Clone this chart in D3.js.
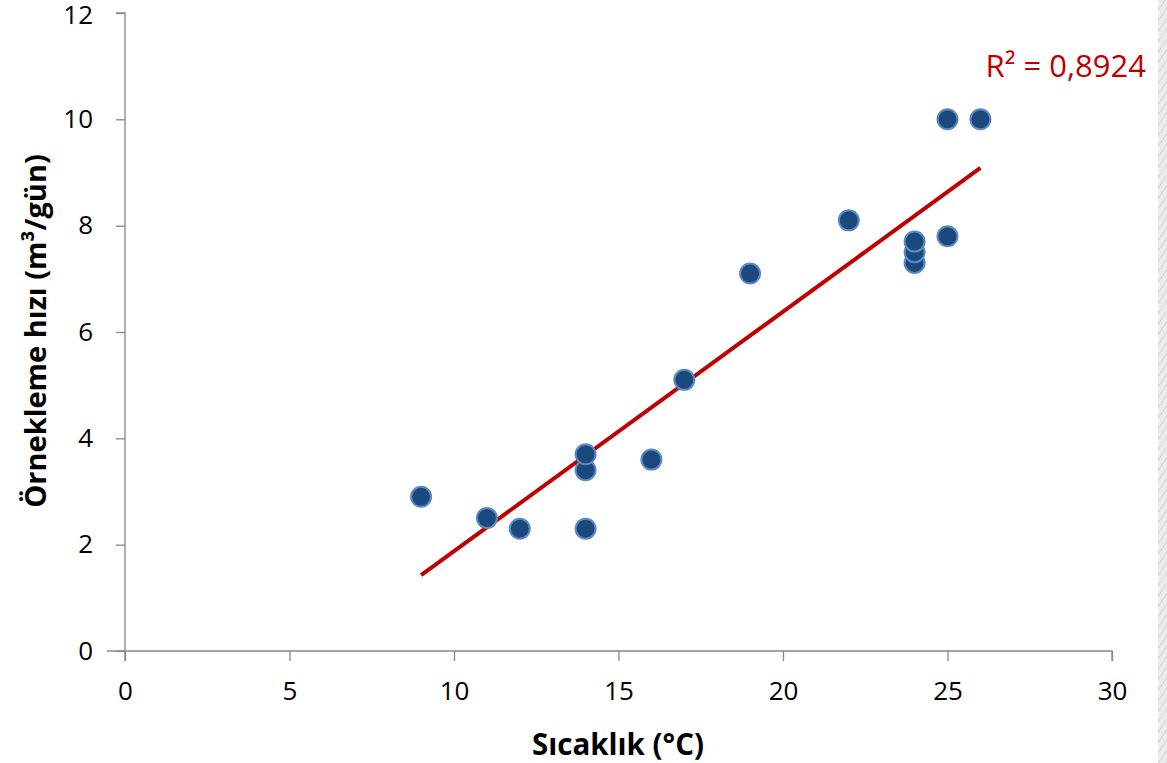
<!DOCTYPE html>
<html>
<head>
<meta charset="utf-8" />
<script src="https://cdn.jsdelivr.net/npm/d3@7"></script>
<style>
  body { margin: 0; background: #fff; }
  svg { display: block; font-family: "Open Sans", Lato, sans-serif; }
</style>
</head>
<body>
<div id="chart"></div>
<script>
// Data
const temps = [9, 11, 12, 14, 14, 14, 16, 17, 19, 22, 24, 24, 24, 25, 25, 26];
const rates = [2.9, 2.5, 2.3, 2.3, 3.4, 3.7, 3.6, 5.1, 7.1, 8.1, 7.3, 7.5, 7.7, 7.8, 10, 10];
const xTicks = [0, 5, 10, 15, 20, 25, 30];
const yTicks = [0, 2, 4, 6, 8, 10, 12];
const r2Label = "R² = 0,8924";

const width = 1167;
const height = 763;

const x = d3.scaleLinear().domain([0, 30]).range([125, 1112]);
const y = d3.scaleLinear().domain([0, 12]).range([651, 13]);

const svg = d3.select("#chart").append("svg")
    .attr("width", width)
    .attr("height", height);

// decorative strip on the right edge
const defs = svg.append("defs");
const pat = defs.append("pattern")
    .attr("id", "stripes")
    .attr("width", 6).attr("height", 6)
    .attr("patternUnits", "userSpaceOnUse")
    .attr("patternTransform", "rotate(35)");
pat.append("rect").attr("width", 6).attr("height", 6).attr("fill", "#ececec");
pat.append("line").attr("x1", 0).attr("y1", 0).attr("x2", 0).attr("y2", 6)
    .attr("stroke", "#d2d2d2").attr("stroke-width", 2);
defs.append("filter").attr("id", "soft")
    .append("feGaussianBlur").attr("stdDeviation", 0.6);

svg.append("rect")
    .attr("x", 1158).attr("y", 0)
    .attr("width", 9).attr("height", height)
    .attr("fill", "url(#stripes)");

// axes
const axisColor = "#868686";

const xAxis = svg.append("g")
    .attr("transform", `translate(0,${y(0)})`)
    .call(d3.axisBottom(x).tickValues(xTicks).tickSize(10).tickPadding(21));
const yAxis = svg.append("g")
    .attr("transform", `translate(${x(0)},0)`)
    .call(d3.axisLeft(y).tickValues(yTicks).tickSize(9).tickPadding(23));

[xAxis, yAxis].forEach(g => {
    g.select(".domain").attr("stroke", axisColor).attr("stroke-width", 1.3);
    g.selectAll(".tick line").attr("stroke", axisColor).attr("stroke-width", 1.3);
    g.selectAll(".tick text")
        .attr("fill", "#000")
        .style("font-size", "26px")
        .style("font-family", "'Open Sans', Lato, sans-serif");
});
xAxis.select(".domain").attr("d", `M${x(0) - 18},0H${x(30)}V10`);
yAxis.select(".domain").attr("d", `M-9,${y(12)}H0V${y(0) + 10}`);
// top label sits right at the edge, nudge it down a touch
yAxis.selectAll(".tick text").filter(d => d === 12).attr("dy", "0.42em");

// trend line (least squares)
const n = temps.length;
const mx = d3.mean(temps), my = d3.mean(rates);
let sxy = 0, sxx = 0;
for (let i = 0; i < n; i++) {
    sxy += (temps[i] - mx) * (rates[i] - my);
    sxx += (temps[i] - mx) ** 2;
}
const slope = sxy / sxx;
const icpt = my - slope * mx;
const xr = d3.extent(temps);

svg.append("line")
    .attr("x1", x(xr[0])).attr("y1", y(icpt + slope * xr[0]))
    .attr("x2", x(xr[1])).attr("y2", y(icpt + slope * xr[1]))
    .attr("stroke", "#C00000")
    .attr("stroke-width", 4);

// points
svg.append("g").selectAll("circle")
    .data(temps.map((t, i) => [t, rates[i]]))
    .join("circle")
    .attr("cx", d => x(d[0]))
    .attr("cy", d => y(d[1]))
    .attr("r", 10)
    .attr("fill", "#1F497D")
    .attr("stroke", "#5a8ac4")
    .attr("stroke-width", 2)
    .attr("filter", "url(#soft)");

// labels
svg.append("text")
    .attr("x", 1146).attr("y", 77)
    .attr("text-anchor", "end")
    .attr("fill", "#C00000")
    .style("font-size", "31px")
    .text(r2Label);

svg.append("text")
    .attr("x", 618).attr("y", 755)
    .attr("text-anchor", "middle")
    .style("font-size", "29.5px")
    .style("font-weight", "bold")
    .text("Sıcaklık (°C)");

svg.append("text")
    .attr("transform", "translate(46,331) rotate(-90)")
    .attr("text-anchor", "middle")
    .style("font-size", "29px")
    .style("font-weight", "bold")
    .text("Örnekleme hızı (m³/gün)");
</script>
</body>
</html>
